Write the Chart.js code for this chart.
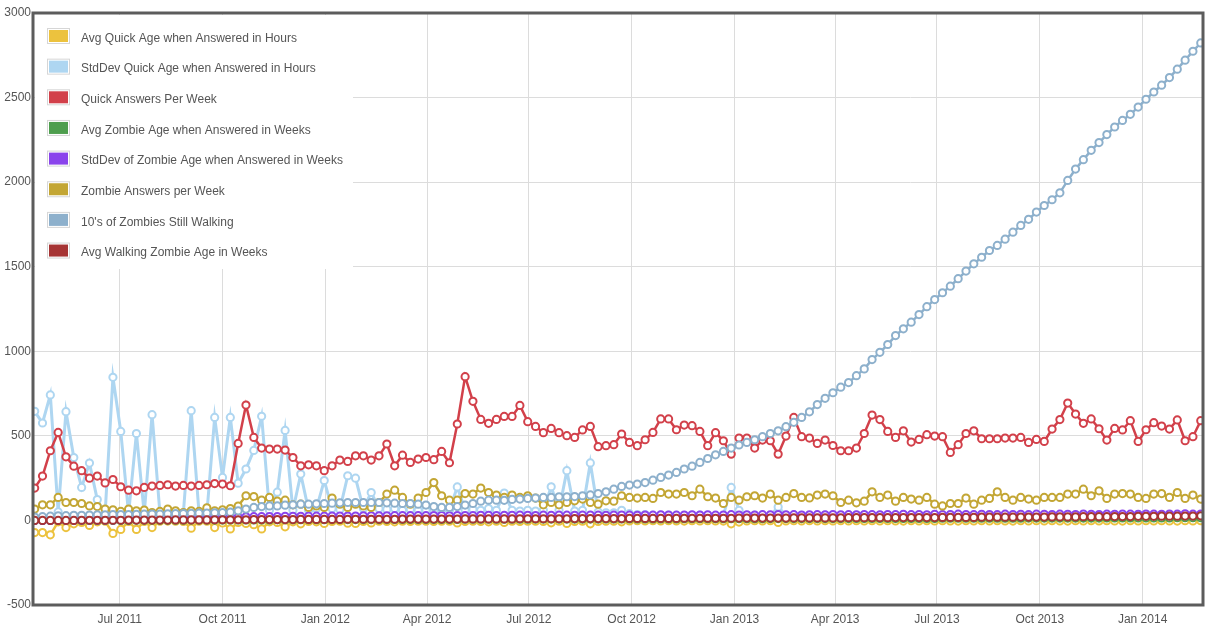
<!DOCTYPE html>
<html>
<head>
<meta charset="utf-8">
<script src="https://cdn.jsdelivr.net/npm/chart.js@4.4.1/dist/chart.umd.min.js"></script>
<style>
  html, body { margin: 0; padding: 0; background: #fff; }
  #wrap { width: 1219px; height: 638px; position: relative; }
</style>
</head>
<body>
<div id="wrap"><canvas id="chart"></canvas></div>
<script>
// weekly samples, first week starts mid April 2011
const firstWeek = new Date(2011, 3, 16);
const weekCount = 150;

const seriesNames = [
    'Avg Quick Age when Answered in Hours',
    'StdDev Quick Age when Answered in Hours',
    'Quick Answers Per Week',
    'Avg Zombie Age when Answered in Weeks',
    'StdDev of Zombie Age when Answered in Weeks',
    'Zombie Answers per Week',
    "10's of Zombies Still Walking",
    'Avg Walking Zombie Age in Weeks'
];
const seriesColors = ['#ecc23e', '#aed6f1', '#d2404a', '#4e9e4e', '#8a44ec', '#c3a634', '#8db0cc', '#a63434'];

const quarterLabels = ['Jul 2011', 'Oct 2011', 'Jan 2012', 'Apr 2012', 'Jul 2012', 'Oct 2012',
    'Jan 2013', 'Apr 2013', 'Jul 2013', 'Oct 2013', 'Jan 2014'];
const yTicks = [-500, 0, 500, 1000, 1500, 2000, 2500, 3000];

const avgQuickAge = [
    -72, -72, -85, -8, -42, -20, -12, -30, -8, -5,
    -77, -53, -6, -53, -6, -42, -5, -4, -5, -6,
    -46, -5, -5, -42, -15, -50, -12, -18, -25, -50,
    -8, -12, -38, -8, -20, -6, -8, -18, -6, -5,
    -16, -18, -6, -15, -5, -6, -8, -5, -6, -5,
    -5, -6, -5, -5, -15, -6, -5, -6, -8, -5,
    -12, -5, -6, -5, -5, -6, -14, -5, -18, -6,
    -5, -20, -6, -5, -5, -8, -3, -2, -3, -2,
    -3, -2, -3, -4, -2, -3, -2, -3, -4, -20,
    -10, -3, -2, -3, -2, -12, -3, -2, -3, -2,
    -3, -2, -3, -2, -3, -2, -3, -2, -3, -2,
    -3, -4, -2, -3, -2, -3, -2, -3, -4, -2,
    -3, -2, -3, -2, -3, -4, -2, -3, -2, -3,
    -2, -3, -4, -2, -3, -2, -3, -2, -3, -4,
    -2, -3, -2, -3, -2, -3, -4, -2, -3, -2
];
const stdQuickAge = [
    645, 576, 742, 50, 643, 372, 195, 339, 123, 40,
    846, 526, 40, 514, 40, 625, 45, 40, 40, 45,
    649, 45, 40, 609, 254, 609, 220, 304, 414, 616,
    60, 167, 532, 60, 274, 60, 70, 236, 70, 65,
    264, 250, 70, 165, 70, 65, 70, 60, 65, 60,
    60, 55, 60, 60, 198, 60, 65, 60, 70, 60,
    162, 60, 55, 60, 55, 60, 199, 60, 294, 55,
    60, 340, 50, 45, 45, 60, 40, 35, 35, 30,
    30, 32, 30, 28, 30, 31, 30, 29, 30, 195,
    60, 30, 31, 30, 29, 80, 30, 31, 30, 29,
    30, 31, 30, 29, 30, 32, 30, 29, 30, 31,
    30, 29, 30, 31, 30, 29, 30, 31, 30, 29,
    30, 31, 30, 29, 30, 31, 30, 29, 30, 31,
    30, 29, 30, 31, 30, 29, 30, 31, 30, 29,
    30, 31, 30, 29, 30, 31, 30, 29, 30, 31
];
const quickAnswers = [
    191, 262, 412, 520, 376, 321, 294, 250, 262, 222,
    242, 199, 179, 175, 195, 203, 207, 211, 203, 207,
    203, 207, 211, 218, 215, 205, 455, 682, 491, 428,
    422, 422, 416, 372, 323, 329, 323, 294, 323, 357,
    349, 382, 382, 357, 382, 452, 323, 386, 343, 363,
    372, 359, 408, 341, 570, 850, 704, 597, 574, 597,
    615, 615, 680, 584, 556, 519, 544, 519, 501, 491,
    535, 556, 436, 442, 448, 511, 461, 442, 477, 520,
    600, 600, 536, 564, 560, 526, 442, 519, 471, 392,
    487, 487, 428, 475, 471, 392, 499, 609, 495, 487,
    455, 475, 443, 412, 412, 428, 514, 623, 596, 526,
    491, 530, 463, 479, 507, 499, 495, 402, 448, 514,
    530, 483, 483, 483, 487, 487, 491, 461, 479, 467,
    540, 596, 694, 629, 574, 600, 542, 475, 544, 535,
    590, 467, 536, 578, 558, 540, 594, 471, 495, 590
];
const avgZombieAge = [
    0, 0, 0, 0, 0, 0, 0, 0, 0, 0,
    0, 0, 0, 1, 1, 1, 1, 1, 1, 1,
    2, 2, 2, 2, 2, 3, 3, 3, 3, 3,
    3, 4, 4, 4, 4, 4, 4, 4, 5, 5,
    5, 5, 5, 5, 5, 5, 6, 6, 6, 6,
    6, 6, 6, 6, 6, 7, 7, 7, 7, 7,
    7, 7, 7, 7, 8, 8, 8, 8, 8, 8,
    8, 8, 8, 9, 9, 9, 9, 9, 9, 9,
    9, 9, 9, 10, 10, 10, 10, 10, 10, 10,
    10, 10, 10, 10, 11, 11, 11, 11, 11, 11,
    11, 11, 11, 11, 11, 12, 12, 12, 12, 12,
    12, 12, 12, 12, 12, 12, 13, 13, 13, 13,
    13, 13, 13, 13, 13, 13, 13, 14, 14, 14,
    14, 14, 14, 14, 14, 14, 14, 15, 15, 15,
    15, 15, 15, 15, 15, 15, 16, 16, 16, 16
];
const stdZombieAge = [
    0, 0, 0, 1, 1, 1, 2, 2, 2, 3,
    3, 4, 4, 5, 5, 6, 7, 8, 9, 10,
    11, 12, 14, 16, 18, 19, 20, 21, 22, 22,
    23, 23, 24, 24, 24, 25, 25, 25, 26, 26,
    26, 26, 27, 27, 27, 27, 28, 28, 28, 28,
    28, 29, 29, 27, 29, 29, 29, 30, 30, 29,
    30, 30, 31, 30, 29, 31, 30, 31, 31, 30,
    31, 32, 31, 30, 31, 32, 31, 30, 32, 31,
    33, 32, 31, 32, 33, 32, 33, 31, 32, 34,
    32, 33, 32, 34, 33, 35, 33, 34, 32, 33,
    34, 33, 35, 33, 34, 33, 35, 34, 33, 35,
    34, 36, 34, 35, 33, 36, 34, 35, 37, 35,
    34, 36, 35, 34, 37, 35, 36, 34, 37, 36,
    35, 37, 36, 35, 38, 36, 35, 37, 36, 38,
    37, 36, 38, 37, 36, 38, 37, 39, 37, 38
];
const zombieAnswers = [
    67, 92, 92, 136, 106, 106, 100, 86, 82, 67,
    63, 53, 67, 57, 61, 47, 53, 67, 57, 47,
    57, 53, 75, 57, 63, 70, 85, 146, 141, 120,
    136, 114, 120, 92, 96, 77, 86, 77, 132, 96,
    77, 96, 86, 77, 106, 156, 179, 136, 96, 132,
    165, 224, 146, 120, 120, 159, 156, 191, 165, 150,
    136, 150, 136, 146, 132, 92, 106, 92, 106, 116,
    126, 106, 96, 116, 114, 146, 136, 132, 136, 130,
    165, 156, 156, 165, 146, 185, 140, 132, 100, 136,
    120, 140, 146, 132, 156, 120, 136, 159, 136, 133,
    150, 156, 146, 106, 120, 104, 114, 169, 136, 150,
    114, 136, 126, 120, 136, 96, 86, 100, 100, 132,
    96, 120, 130, 169, 136, 120, 136, 126, 120, 136,
    136, 136, 156, 156, 185, 146, 175, 130, 156, 159,
    156, 136, 130, 156, 159, 136, 165, 130, 150, 126
];
const zombiesWalking = [
    20, 22, 25, 27, 28, 30, 30, 32, 33, 33,
    34, 35, 35, 36, 37, 38, 38, 39, 40, 41,
    42, 43, 44, 45, 47, 49, 57, 67, 77, 82,
    86, 86, 90, 92, 96, 96, 98, 100, 102, 104,
    106, 106, 106, 106, 106, 104, 102, 100, 100, 96,
    91, 82, 77, 77, 82, 91, 100, 114, 120, 120,
    119, 124, 126, 130, 132, 136, 136, 140, 140, 141,
    146, 151, 159, 169, 185, 201, 209, 215, 224, 238,
    254, 268, 284, 304, 321, 343, 366, 388, 408, 428,
    446, 461, 477, 495, 514, 530, 554, 580, 609, 642,
    685, 722, 755, 788, 815, 856, 896, 951, 994, 1040,
    1093, 1133, 1172, 1217, 1264, 1306, 1346, 1385, 1429, 1474,
    1517, 1556, 1596, 1626, 1663, 1704, 1744, 1780, 1823, 1862,
    1896, 1937, 2010, 2077, 2133, 2188, 2234, 2281, 2326, 2365,
    2401, 2444, 2490, 2533, 2573, 2618, 2668, 2721, 2774, 2823
];
const walkingAge = [
    0, 0, 0, 0, 0, 0, 1, 1, 1, 1,
    1, 1, 2, 2, 2, 2, 2, 2, 3, 3,
    3, 3, 3, 4, 4, 4, 4, 4, 5, 5,
    5, 5, 5, 5, 6, 6, 6, 6, 6, 6,
    7, 7, 7, 7, 7, 7, 7, 8, 8, 8,
    8, 8, 8, 8, 8, 9, 9, 9, 9, 9,
    9, 9, 10, 10, 10, 10, 10, 10, 10, 11,
    11, 11, 11, 11, 11, 11, 12, 12, 12, 12,
    12, 12, 12, 13, 13, 13, 13, 13, 13, 13,
    14, 14, 14, 14, 14, 14, 14, 15, 15, 15,
    15, 15, 15, 15, 16, 16, 16, 16, 16, 16,
    17, 17, 17, 17, 17, 17, 18, 18, 18, 18,
    18, 19, 19, 19, 19, 19, 20, 20, 20, 20,
    21, 21, 21, 21, 22, 22, 22, 22, 23, 23,
    23, 24, 24, 24, 25, 25, 25, 26, 26, 27
];

const allSeries = [avgQuickAge, stdQuickAge, quickAnswers, avgZombieAge,
    stdZombieAge, zombieAnswers, zombiesWalking, walkingAge];

// x axis in days since 1 Jul 2011
const dayZero = new Date(2011, 6, 1);
function daysFrom(d) {
    return Math.round((d - dayZero) / 86400000);
}
const quarterDays = quarterLabels.map((_, i) => daysFrom(new Date(2011, 6 + i * 3, 1)));
const startDay = daysFrom(firstWeek);
const weekDays = Array.from({ length: weekCount }, (_, i) => startDay + i * 7);

const datasets = allSeries.map((values, s) => ({
    label: seriesNames[s],
    data: values.map((v, i) => ({ x: weekDays[i], y: v })),
    borderColor: seriesColors[s],
    backgroundColor: seriesColors[s],
    borderWidth: s === 1 ? 3 : 2.5,
    pointRadius: 3.6,
    pointBorderWidth: 2,
    pointBackgroundColor: '#ffffff',
    pointBorderColor: seriesColors[s],
    tension: 0,
    order: allSeries.length - s
}));

const FONT = '"Liberation Sans", Arial, sans-serif';

const boxLegend = {
    id: 'boxLegend',
    afterDraw(chart) {
        const ctx = chart.ctx;
        const a = chart.chartArea;
        ctx.save();
        ctx.fillStyle = '#ffffff';
        ctx.fillRect(a.left + 2, a.top + 2, 318, 254);
        seriesNames.forEach((name, i) => {
            const cy = a.top + 23 + i * 30.65;
            ctx.fillStyle = '#ffffff';
            ctx.fillRect(a.left + 14, cy - 8, 23, 16);
            ctx.strokeStyle = '#d6d6d6';
            ctx.lineWidth = 1;
            ctx.strokeRect(a.left + 14.5, cy - 7.5, 22, 15);
            ctx.fillStyle = seriesColors[i];
            ctx.fillRect(a.left + 16, cy - 6, 19, 12);
            ctx.fillStyle = '#555555';
            ctx.font = '12px ' + FONT;
            ctx.textBaseline = 'middle';
            ctx.textAlign = 'left';
            ctx.fillText(name, a.left + 48, cy + 2.5);
        });
        // plot frame
        ctx.strokeStyle = '#5c5c5c';
        ctx.lineWidth = 3;
        ctx.strokeRect(a.left, a.top, a.right - a.left, a.bottom - a.top);
        ctx.restore();
    }
};

new Chart(document.getElementById('chart'), {
    type: 'line',
    data: { datasets },
    options: {
        responsive: true,
        maintainAspectRatio: false,
        animation: false,
        layout: { padding: { top: 13, right: 16, left: 0, bottom: 0 } },
        plugins: {
            legend: { display: false },
            tooltip: { enabled: false }
        },
        scales: {
            x: {
                type: 'linear',
                min: -77.5,
                max: 969,
                afterFit(scale) { scale.height = 33; },
                afterBuildTicks(scale) {
                    scale.ticks = quarterDays.map(v => ({ value: v }));
                },
                grid: { color: '#dcdcdc', drawTicks: false, lineWidth: 1 },
                border: { display: false },
                ticks: {
                    autoSkip: false,
                    maxRotation: 0,
                    padding: 7,
                    color: '#555555',
                    font: { family: FONT, size: 12 },
                    callback(value) {
                        const k = quarterDays.indexOf(value);
                        return k >= 0 ? quarterLabels[k] : '';
                    }
                }
            },
            y: {
                min: yTicks[0],
                max: yTicks[yTicks.length - 1],
                afterFit(scale) { scale.width = 33; },
                afterBuildTicks(scale) {
                    scale.ticks = yTicks.map(v => ({ value: v }));
                },
                grid: { color: '#dcdcdc', drawTicks: false, lineWidth: 1 },
                border: { display: false },
                ticks: {
                    padding: 2,
                    color: '#555555',
                    font: { family: FONT, size: 12 },
                    callback: value => String(value)
                }
            }
        }
    },
    plugins: [boxLegend]
});
</script>
</body>
</html>
